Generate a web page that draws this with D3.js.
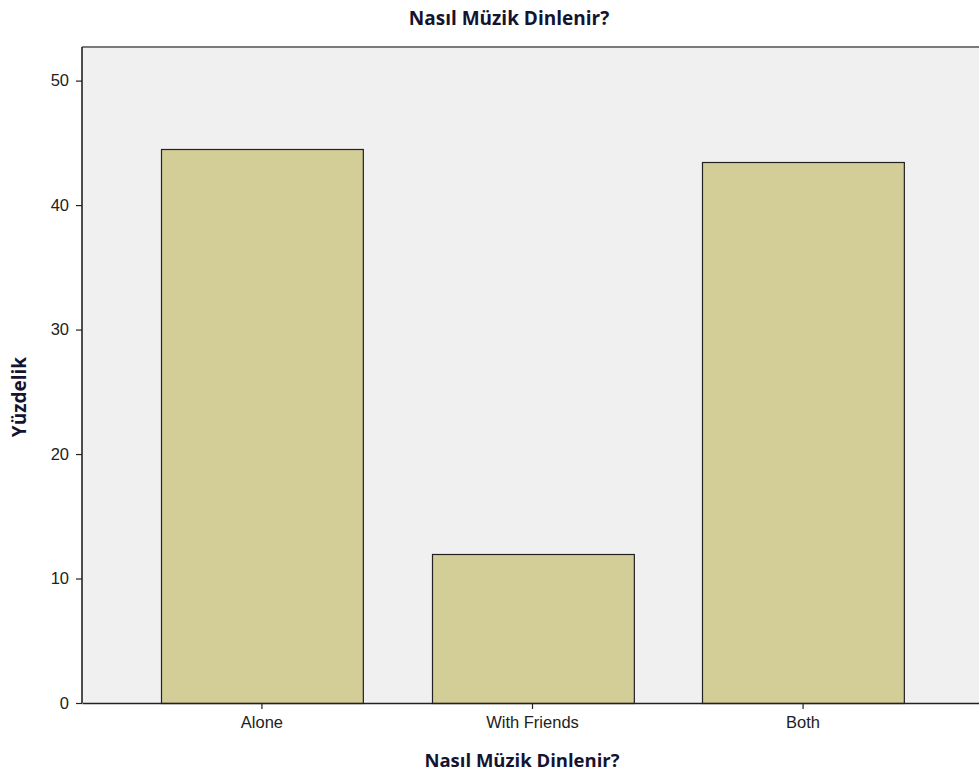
<!DOCTYPE html>
<html><head><meta charset="utf-8">
<script src="https://cdn.jsdelivr.net/npm/d3@7"></script>
<style>body{margin:0;background:#fff;}svg{display:block;}</style>
</head><body>
<script>
const categories = ["Alone", "With Friends", "Both"];
const values = [44.5, 12.0, 43.5];
const yTicks = [0, 10, 20, 30, 40, 50];
const titleText = "Nasıl Müzik Dinlenir?";
const yTitle = "Yüzdelik";

const W = 979, H = 774;
const pLeft = 82, pTop = 47, pRight = 983, pBottom = 703;
const svg = d3.select("body").append("svg").attr("width", W).attr("height", H);

const x = d3.scaleBand().domain(categories).range([pLeft, pRight]).paddingInner(0.254).paddingOuter(0.292);
const y = d3.scaleLinear().domain([0, 52.7]).range([pBottom, pTop]);

svg.append("rect").attr("x", pLeft).attr("y", pTop).attr("width", pRight - pLeft).attr("height", pBottom - pTop).attr("fill", "#f0f0f0");
svg.append("line").attr("x1", pLeft).attr("x2", pRight).attr("y1", pTop).attr("y2", pTop).attr("stroke", "#7a7a7a").attr("stroke-width", 2);

svg.selectAll("rect.bar").data(values).enter().append("rect").attr("class", "bar")
  .attr("x", (d, i) => Math.round(x(categories[i])) + 0.5)
  .attr("y", d => Math.round(y(d)) + 0.5)
  .attr("width", x.bandwidth())
  .attr("height", d => pBottom - Math.round(y(d)))
  .attr("fill", "#d3ce97").attr("stroke", "#222").attr("stroke-width", 1.2);

const yAxis = svg.append("g").attr("transform", `translate(${pLeft},0)`)
  .call(d3.axisLeft(y).tickValues(yTicks).tickSize(6).tickFormat(d3.format("d")));
const xAxis = svg.append("g").attr("transform", `translate(0,${pBottom})`)
  .call(d3.axisBottom(x).tickSize(6).tickSizeOuter(0));
[yAxis, xAxis].forEach(g => {
  g.selectAll("text").attr("font-family", "Liberation Sans, Arial, sans-serif").attr("font-size", 16.5).attr("fill", "#222");
  g.selectAll("line").attr("stroke", "#222").attr("stroke-width", 1.2);
  g.select(".domain").attr("stroke", "#222").attr("stroke-width", 1.6);
});
yAxis.select(".domain").attr("d", `M0,${pTop}V${pBottom}`);
yAxis.selectAll("text").attr("x", -13);
xAxis.selectAll("text").attr("y", 13);

const tf = "'Open Sans', Lato, sans-serif";
svg.append("text").attr("x", 509).attr("y", 25).attr("text-anchor", "middle")
  .attr("font-family", tf).attr("font-weight", "bold").attr("font-size", 19).attr("fill", "#141430").text(titleText);
svg.append("text").attr("x", 522).attr("y", 767).attr("text-anchor", "middle")
  .attr("font-family", tf).attr("font-weight", "bold").attr("font-size", 18.5).attr("fill", "#141430").text(titleText);
svg.append("text").attr("transform", "translate(26,397) rotate(-90)").attr("text-anchor", "middle")
  .attr("font-family", tf).attr("font-weight", "bold").attr("font-size", 19).attr("fill", "#141430").text(yTitle);
</script>
</body></html>
